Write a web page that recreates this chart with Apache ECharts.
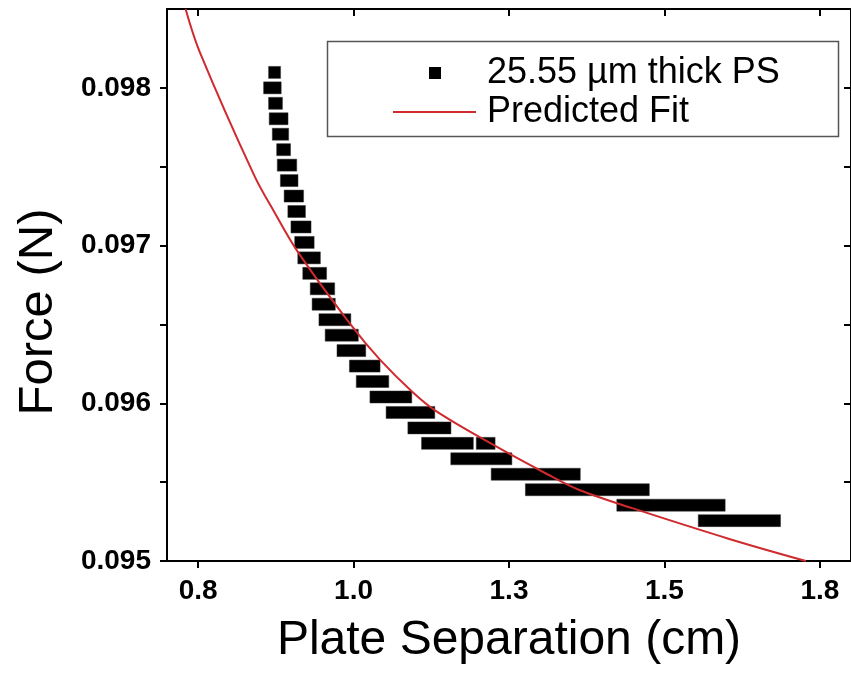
<!DOCTYPE html>
<html>
<head>
<meta charset="utf-8">
<script src="https://cdn.jsdelivr.net/npm/echarts@6/dist/echarts.min.js"></script>
<style>
  html, body { margin: 0; padding: 0; background: #ffffff; }
  #chart { width: 851px; height: 680px; }
</style>
</head>
<body>
<div id="chart"></div>
<script>
// Measured runs: at each force level (N) the balance stayed constant while the
// plate separation moved from runXStart to runXEnd (cm, first and last point).
const runForce = [
  0.098098, 0.098000, 0.097902, 0.097804, 0.097706, 0.097608, 0.097510, 0.097412,
  0.097314, 0.097216, 0.097118, 0.097020, 0.096922, 0.096824, 0.096726, 0.096628,
  0.096530, 0.096432, 0.096334, 0.096236, 0.096138, 0.096040, 0.095942, 0.095844,
  0.095746, 0.095746, 0.095648, 0.095550, 0.095452, 0.095354, 0.095256
];
const runXStart = [
  0.873, 0.865, 0.873, 0.874, 0.879, 0.886, 0.887, 0.892,
  0.898, 0.904, 0.909, 0.915, 0.920, 0.928, 0.940, 0.943,
  0.954, 0.964, 0.983, 1.003, 1.014, 1.036, 1.062, 1.097,
  1.119, 1.207, 1.166, 1.231, 1.286, 1.433, 1.564
];
const runXEnd = [
  0.873, 0.874, 0.876, 0.885, 0.886, 0.889, 0.899, 0.901,
  0.910, 0.913, 0.922, 0.927, 0.937, 0.947, 0.960, 0.961,
  0.986, 0.998, 1.010, 1.033, 1.047, 1.084, 1.121, 1.147,
  1.183, 1.218, 1.245, 1.355, 1.466, 1.588, 1.677
];

// Predicted fit, sampled along the curve
const fitX = [0.7299, 0.7524, 0.8408, 0.8730, 0.9104, 0.9951, 1.0417, 1.0952, 1.1328, 1.2185, 1.3117, 1.3631, 1.4483, 1.6042, 1.7275];
const fitForce = [0.09850, 0.09823, 0.09744, 0.09721, 0.09696, 0.09650, 0.09628, 0.09607, 0.09595, 0.09575, 0.09555, 0.09545, 0.095335, 0.09514, 0.09500];

// Axis ticks and labels
const xTickValues = [0.75, 1.0, 1.25, 1.5, 1.75];
const xTickLabels = ['0.8', '1.0', '1.3', '1.5', '1.8'];
const yTickValues = [0.095, 0.0955, 0.096, 0.0965, 0.097, 0.0975, 0.098];
const yLabelValues = [0.095, 0.096, 0.097, 0.098];
const yTickLabels = ['0.095', '0.096', '0.097', '0.098'];

const dataName = '25.55 \u00b5m thick PS';
const fitName = 'Predicted Fit';
const FONT = '"Liberation Sans", Arial, Helvetica, sans-serif';
const MARK = 12;          // square symbol size in px
const FIT_COLOR = '#cf2a2e';

const runData = runForce.map((f, i) => [runXStart[i], runXEnd[i], f]);
const fitData = fitX.map((x, i) => [x, fitForce[i]]);

const chart = echarts.init(document.getElementById('chart'), null, { renderer: 'canvas' });

const axisLine = { show: true, onZero: false, lineStyle: { color: '#000', width: 2 } };
const tickStyle = { color: '#000', width: 2 };

chart.setOption({
  backgroundColor: '#ffffff',
  animation: false,
  grid: { left: 167, top: 9, width: 684, height: 552, containLabel: false },
  xAxis: [
    {
      type: 'value', position: 'bottom', min: 0.7, max: 1.8,
      axisLine: axisLine,
      axisTick: { show: true, inside: false, length: 7, lineStyle: tickStyle, customValues: xTickValues },
      axisLabel: {
        customValues: xTickValues, margin: 16,
        formatter: v => xTickLabels[xTickValues.indexOf(v)],
        fontFamily: FONT, fontWeight: 'bold', fontSize: 28, color: '#000'
      },
      splitLine: { show: false },
      name: 'Plate Separation (cm)', nameLocation: 'middle', nameGap: 56,
      nameTextStyle: { fontFamily: FONT, fontSize: 48, color: '#000' }
    },
    {
      type: 'value', position: 'top', min: 0.7, max: 1.8,
      axisLine: axisLine,
      axisTick: { show: true, inside: true, length: 7, lineStyle: tickStyle, customValues: xTickValues },
      axisLabel: { show: false },
      splitLine: { show: false }
    }
  ],
  yAxis: [
    {
      type: 'value', position: 'left', min: 0.095, max: 0.0985,
      axisLine: axisLine,
      axisTick: { show: true, inside: false, length: 7, lineStyle: tickStyle, customValues: yTickValues },
      axisLabel: {
        customValues: yLabelValues, margin: 16,
        formatter: v => yTickLabels[yLabelValues.indexOf(v)],
        fontFamily: FONT, fontWeight: 'bold', fontSize: 28, color: '#000'
      },
      splitLine: { show: false },
      name: 'Force (N)', nameLocation: 'middle', nameGap: 104, nameRotate: 90,
      nameTextStyle: { fontFamily: FONT, fontSize: 49, color: '#000', padding: [0, 54, 0, 0] }
    },
    {
      type: 'value', position: 'right', min: 0.095, max: 0.0985,
      axisLine: axisLine,
      axisTick: { show: true, inside: true, length: 7, lineStyle: tickStyle, customValues: yTickValues },
      axisLabel: { show: false },
      splitLine: { show: false }
    }
  ],
  legend: [
    {
      data: [{ name: dataName, icon: 'rect', itemStyle: { color: '#000' } }],
      left: 429, top: 53, padding: 0, itemWidth: 12, itemHeight: 12,
      selectedMode: false,
      textStyle: { fontFamily: FONT, fontSize: 36, color: '#000', lineHeight: 40, padding: [0, 0, 0, 41] }
    },
    {
      data: [{ name: fitName, icon: 'rect', itemStyle: { color: FIT_COLOR } }],
      left: 393, top: 92, padding: 0, itemWidth: 83, itemHeight: 2,
      selectedMode: false,
      textStyle: { fontFamily: FONT, fontSize: 36, color: '#000', lineHeight: 40, padding: [0, 0, 0, 6] }
    }
  ],
  graphic: [
    {
      type: 'rect', left: 325, top: 39, z: 100,
      shape: { width: 511, height: 95 },
      style: { fill: 'none', stroke: '#555', lineWidth: 1.5 }
    }
  ],
  series: [
    {
      name: dataName,
      type: 'custom',
      xAxisIndex: 0, yAxisIndex: 0,
      itemStyle: { color: '#000' },
      encode: { x: [0, 1], y: 2 },
      data: runData,
      renderItem: (params, api) => {
        const f = api.value(2);
        const p0 = api.coord([api.value(0), f]);
        const p1 = api.coord([api.value(1), f]);
        return {
          type: 'rect',
          shape: { x: p0[0] - MARK / 2, y: p0[1] - MARK / 2, width: p1[0] - p0[0] + MARK, height: MARK },
          style: { fill: '#000', stroke: '#333', lineWidth: 0.5 }
        };
      },
      z: 2
    },
    {
      name: fitName,
      type: 'line',
      xAxisIndex: 0, yAxisIndex: 0,
      data: fitData,
      smooth: 0.35,
      symbol: 'none',
      clip: true,
      lineStyle: { color: FIT_COLOR, width: 2 },
      itemStyle: { color: FIT_COLOR },
      z: 3
    }
  ]
});
</script>
</body>
</html>
